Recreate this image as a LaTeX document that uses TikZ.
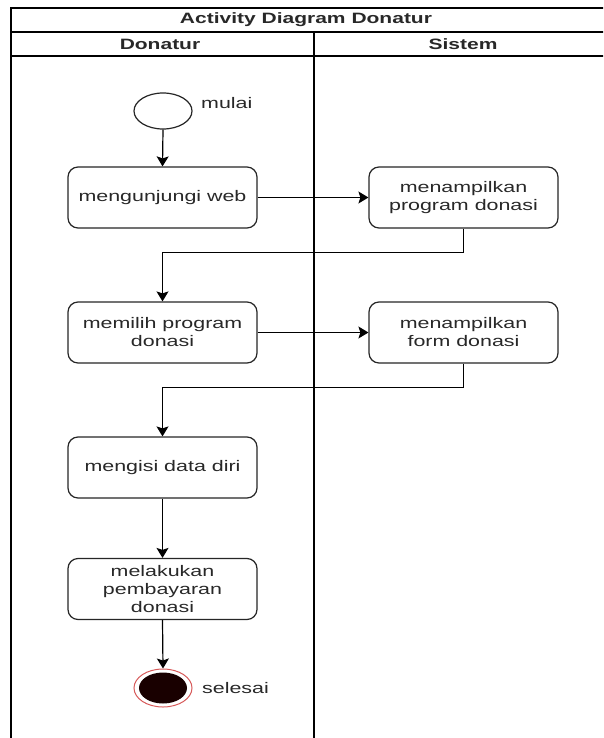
\documentclass[tikz,border=0pt]{standalone}
\usepackage{fontspec}
\setmainfont{Liberation Sans}[FakeStretch=1.4]
\usetikzlibrary{shapes.geometric,arrows.meta}
\definecolor{txt}{RGB}{40,40,40}
\definecolor{ringred}{RGB}{215,90,90}
\definecolor{darkcore}{RGB}{25,0,0}
\tikzset{
  act/.style={draw=black!85, line width=1.2pt, rounded corners=10pt, fill=white,
    minimum width=189pt, minimum height=61pt, align=center, text=txt,
    font=\fontsize{15.3}{18}\selectfont, inner sep=2pt},
  lbl/.style={text=txt, font=\fontsize{15.3}{18}\selectfont, inner sep=0pt},
  hdr/.style={text=txt, font=\fontsize{15}{18}\selectfont\bfseries, inner sep=0pt},
  lane/.style={line width=1.5pt, black},
  arr/.style={line width=1.2pt, black, -{Stealth[length=10pt,width=12pt,inset=2pt]}},
  conn/.style={line width=1.2pt, black}
}
\begin{document}
\begin{tikzpicture}[x=1pt,y=-1pt]
\useasboundingbox (0,0) rectangle (603,738);
\clip (0,0) rectangle (603,738);
% swimlane frame
\draw[lane] (11,738) -- (11,8) -- (610,8);
\draw[lane] (11,32) -- (610,32);
\draw[lane] (11,56) -- (610,56);
\draw[lane] (314,32) -- (314,745);
\node[hdr] (title) at (306,20) {Activity Diagram Donatur};
\node[hdr] (h1) at (160,44) {Donatur};
\node[hdr] (h2) at (463,44) {Sistem};
% nodes
\node[ellipse, draw=black!85, line width=1.2pt, fill=white, minimum width=58pt, minimum height=36pt, inner sep=0pt] (start) at (163,111) {};
\node[lbl, anchor=west] (mulai) at (201,103) {mulai};
\node[act] (b1) at (162.5,197.5) {mengunjungi web};
\node[act] (b2) at (463.5,197.5) {menampilkan\\program donasi};
\node[act] (b3) at (162.5,332.5) {memilih program\\donasi};
\node[act] (b4) at (463.5,332.5) {menampilkan\\form donasi};
\node[act] (b5) at (162.5,467.5) {mengisi data diri};
\node[act] (b6) at (162.5,589) {melakukan\\pembayaran\\donasi};
\node[ellipse, draw=ringred, line width=1pt, fill=white, minimum width=58pt, minimum height=38pt, inner sep=0pt] (end) at (163,688) {};
\node[ellipse, fill=darkcore, minimum width=48pt, minimum height=31pt, inner sep=0pt] (endcore) at (163,688) {};
\node[lbl, anchor=west] (selesai) at (202,688) {selesai};
% connectors
\draw[arr] (start.south) -- (b1.north);
\draw[arr] (b1.east) -- (b2.west);
\draw[arr] (b2.south) -- ++(0,24) -| (b3.north);
\draw[arr] (b3.east) -- (b4.west);
\draw[arr] (b4.south) -- ++(0,24) -| (b5.north);
\draw[arr] (b5.south) -- (b6.north);
\draw[arr] (b6.south) -- (end.north);
\end{tikzpicture}
\end{document}
